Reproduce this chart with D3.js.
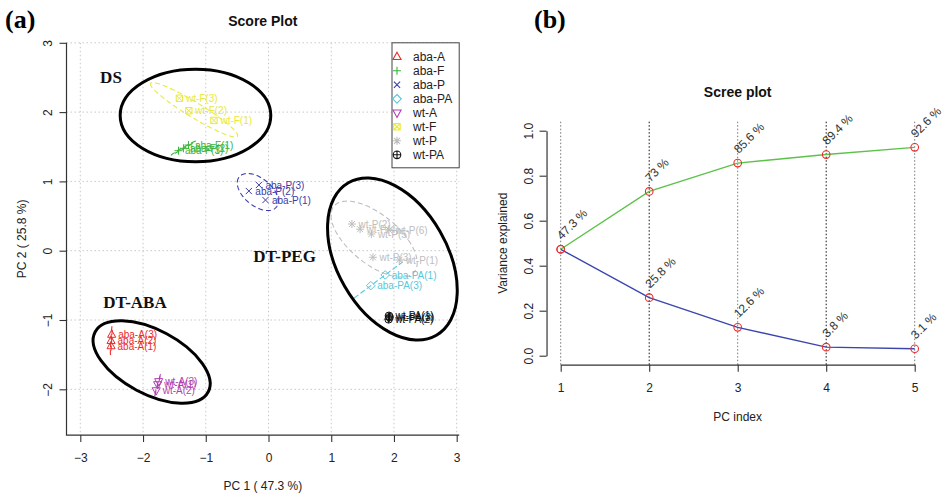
<!DOCTYPE html>
<html>
<head>
<meta charset="utf-8">
<script src="https://cdn.jsdelivr.net/npm/d3@7"></script>
<style>
  body { margin: 0; background: #fff; }
</style>
</head>
<body>
<svg id="chart" width="950" height="495"></svg>
<script>
// ---- Score plot data ----
const groups = ["aba-A", "aba-F", "aba-P", "aba-PA", "wt-A", "wt-F", "wt-P", "wt-PA"];
const groupColors = ["#EC2A2A", "#38B438", "#3C3CA8", "#58C8DA", "#B23FB2", "#E9E93A", "#BEBEBE", "#111111"];
const groupSymbols = ["triangle", "plus", "cross", "diamond", "triangleDown", "squareCross", "asterisk", "circlePlus"];

const sampleGroup = ["aba-A", "aba-A", "aba-A",
                     "aba-F", "aba-F", "aba-F",
                     "aba-P", "aba-P", "aba-P",
                     "aba-PA", "aba-PA",
                     "wt-A", "wt-A", "wt-A",
                     "wt-F", "wt-F", "wt-F",
                     "wt-P", "wt-P", "wt-P", "wt-P", "wt-P", "wt-P",
                     "wt-PA", "wt-PA", "wt-PA"];
const sampleRep = [1, 2, 3,
                   1, 2, 3,
                   1, 2, 3,
                   1, 3,
                   1, 2, 3,
                   1, 2, 3,
                   1, 2, 3, 4, 5, 6,
                   1, 2, 3];
const pc1 = [-2.51, -2.51, -2.50,
             -1.276, -1.356, -1.435,
             -0.048, -0.313, -0.153,
             1.86, 1.63,
             -1.767, -1.79, -1.75,
             -0.87, -1.27, -1.42,
             2.085, 1.33, 1.665, 1.46, 1.64, 1.92,
             1.92, 1.915, 1.93];
const pc2 = [-1.375, -1.30, -1.21,
             1.525, 1.478, 1.443,
             0.731, 0.861, 0.948,
             -0.35, -0.505,
             -1.93, -2.017, -1.886,
             1.88, 2.02, 2.20,
             -0.134, 0.385, -0.095, 0.31, 0.24, 0.30,
             -0.94, -0.99, -0.96];

const scoreXTicks = [-3, -2, -1, 0, 1, 2, 3];
const scoreYTicks = [-2, -1, 0, 1, 2, 3];

// Treatment clusters circled on the score plot (centres in PC units)
const clusterNames = ["DS", "DT-PEG", "DT-ABA"];
const clusterPC1 = [-1.164, 1.975, -1.863];
const clusterPC2 = [1.951, -0.12, -1.606];
const clusterNamePC1 = [-2.684, -0.244, -2.636];
const clusterNamePC2 = [2.416, -0.163, -0.83];

// ---- Scree plot data ----
const pcIndex = [1, 2, 3, 4, 5];
const varExplained = [0.473, 0.258, 0.126, 0.038, 0.031];
const cumExplained = [0.473, 0.73, 0.856, 0.894, 0.926];
const screeYTicks = [0, 0.2, 0.4, 0.6, 0.8, 1.0];

// ---------------------------------------------------------------
const SANS = '"Liberation Sans", Arial, Helvetica, sans-serif';
const SERIF = '"Liberation Serif", "Times New Roman", serif';
const svg = d3.select("#chart");

// Marker shapes (R-style plotting characters), centred at the origin
function symbolPath(type) {
  switch (type) {
    case "triangle": { const s = 4.6; return `M0,${-s}L${s * 0.88},${s * 0.6}L${-s * 0.88},${s * 0.6}Z`; }
    case "triangleDown": { const s = 4.6; return `M0,${s}L${s * 0.88},${-s * 0.6}L${-s * 0.88},${-s * 0.6}Z`; }
    case "plus": { const s = 4; return `M${-s},0H${s}M0,${-s}V${s}`; }
    case "cross": { const s = 3.1; return `M${-s},${-s}L${s},${s}M${-s},${s}L${s},${-s}`; }
    case "diamond": { const s = 4.3; return `M0,${-s}L${s},0L0,${s}L${-s},0Z`; }
    case "squareCross": { const s = 3.2; return `M${-s},${-s}H${s}V${s}H${-s}ZM${-s},${-s}L${s},${s}M${-s},${s}L${s},${-s}`; }
    case "asterisk": { const s = 4, d = 3; return `M${-s},0H${s}M0,${-s}V${s}M${-d},${-d}L${d},${d}M${-d},${d}L${d},${-d}`; }
    case "circlePlus": { const r = 3.8; return `M${-r},0A${r},${r} 0 1,0 ${r},0A${r},${r} 0 1,0 ${-r},0ZM${-r},0H${r}M0,${-r}V${r}`; }
  }
  return "";
}
const colorOf = d3.scaleOrdinal().domain(groups).range(groupColors);
const symbolOf = d3.scaleOrdinal().domain(groups).range(groupSymbols);

// 95% confidence ellipse of a group of points (data units)
function confidenceEllipse(xs, ys, n = 120) {
  const k = xs.length;
  const mx = d3.mean(xs), my = d3.mean(ys);
  let sxx = 0, syy = 0, sxy = 0;
  for (let i = 0; i < k; i++) {
    const dx = xs[i] - mx, dy = ys[i] - my;
    sxx += dx * dx; syy += dy * dy; sxy += dx * dy;
  }
  sxx /= (k - 1); syy /= (k - 1); sxy /= (k - 1);
  const tr = sxx + syy, det = sxx * syy - sxy * sxy;
  const disc = Math.sqrt(Math.max(tr * tr / 4 - det, 0));
  const l1 = tr / 2 + disc, l2 = Math.max(tr / 2 - disc, 0);
  let v1 = Math.abs(sxy) > 1e-12 ? [sxy, l1 - sxx] : (sxx >= syy ? [1, 0] : [0, 1]);
  const norm = Math.hypot(v1[0], v1[1]);
  v1 = [v1[0] / norm, v1[1] / norm];
  const v2 = [-v1[1], v1[0]];
  const r = Math.sqrt(5.991464547); // chi-square, 2 df, 0.95
  return d3.range(n + 1).map(i => {
    const t = 2 * Math.PI * i / n;
    const a = r * Math.sqrt(l1) * Math.cos(t), b = r * Math.sqrt(l2) * Math.sin(t);
    return [mx + a * v1[0] + b * v2[0], my + a * v1[1] + b * v2[1]];
  });
}

// ================= (a) Score plot =================
const x = d3.scaleLinear().domain([-3, 3]).range([80.3, 456.7]);
const y = d3.scaleLinear().domain([-2, 3]).range([389.3, 42.8]);
const aLeft = x(-3.22), aRight = x(3.04), aTop = y(3.0), aBottom = y(-2.66);

const gA = svg.append("g");

// dotted grid
gA.append("g").selectAll("line").data(scoreXTicks).join("line")
  .attr("x1", d => x(d)).attr("x2", d => x(d)).attr("y1", aTop).attr("y2", aBottom)
  .attr("stroke", "#c9c9c9").attr("stroke-width", 1).attr("stroke-dasharray", "1.5,2.5");
gA.append("g").selectAll("line").data(scoreYTicks).join("line")
  .attr("y1", d => y(d)).attr("y2", d => y(d)).attr("x1", aLeft).attr("x2", aRight)
  .attr("stroke", "#c9c9c9").attr("stroke-width", 1).attr("stroke-dasharray", "1.5,2.5");

// samples
const samples = sampleGroup.map((g, i) => ({ group: g, rep: sampleRep[i], x: pc1[i], y: pc2[i] }));

// group confidence ellipses
const line = d3.line().x(d => x(d[0])).y(d => y(d[1]));
gA.append("g").selectAll("path").data(groups).join("path")
  .attr("d", g => {
    const pts = samples.filter(s => s.group === g);
    return line(confidenceEllipse(pts.map(p => p.x), pts.map(p => p.y)));
  })
  .attr("fill", "none").attr("stroke", g => colorOf(g)).attr("stroke-width", 1.1)
  .attr("stroke-dasharray", "5,3");

// markers
gA.append("g").selectAll("path").data(samples).join("path")
  .attr("transform", d => `translate(${x(d.x)},${y(d.y)})`)
  .attr("d", d => symbolPath(symbolOf(d.group)))
  .attr("fill", "none").attr("stroke", d => colorOf(d.group)).attr("stroke-width", 1);

// sample labels
gA.append("g").selectAll("text").data(samples).join("text")
  .attr("x", d => x(d.x) + 6.5).attr("y", d => y(d.y) + 3.6)
  .attr("font-family", SANS).attr("font-size", 10)
  .attr("fill", d => colorOf(d.group))
  .text(d => `${d.group}(${d.rep})`);

// treatment cluster outlines
const clusterShape = [
  { rx: 75.3, ry: 46.2, angle: 0 },
  { rx: 88, ry: 55, angle: 60 },
  { rx: 64, ry: 32, angle: 28 }
];
gA.append("g").selectAll("ellipse").data(clusterNames).join("ellipse")
  .attr("transform", (d, i) => `translate(${x(clusterPC1[i])},${y(clusterPC2[i])}) rotate(${clusterShape[i].angle})`)
  .attr("rx", (d, i) => clusterShape[i].rx).attr("ry", (d, i) => clusterShape[i].ry)
  .attr("fill", "none").attr("stroke", "#000").attr("stroke-width", 3);
gA.append("g").selectAll("text").data(clusterNames).join("text")
  .attr("x", (d, i) => x(clusterNamePC1[i])).attr("y", (d, i) => y(clusterNamePC2[i]))
  .attr("font-family", SERIF).attr("font-weight", "bold").attr("font-size", 17)
  .attr("fill", "#111").text(d => d);

// L-shaped frame
gA.append("path")
  .attr("d", `M${aLeft},${aTop}V${aBottom}H${aRight}`)
  .attr("fill", "none").attr("stroke", "#333").attr("stroke-width", 1.2);

// axes
const axX = gA.append("g").attr("transform", `translate(0,${aBottom})`)
  .call(d3.axisBottom(x).tickValues(scoreXTicks).tickSize(7).tickSizeOuter(0).tickFormat(d3.format("d")));
const axY = gA.append("g").attr("transform", `translate(${aLeft},0)`)
  .call(d3.axisLeft(y).tickValues(scoreYTicks).tickSize(7).tickSizeOuter(0).tickFormat(d3.format("d")));
[axX, axY].forEach(ax => {
  ax.select(".domain").remove();
  ax.selectAll(".tick line").attr("stroke", "#333").attr("stroke-width", 1.1);
  ax.selectAll("text").attr("font-family", SANS).attr("font-size", 12).attr("fill", "#222");
});
axX.selectAll("text").attr("y", 27).attr("dy", null);
axY.selectAll("text").attr("x", null).attr("dy", null).attr("text-anchor", "middle")
  .attr("transform", "translate(-14.5,0) rotate(-90)");

// legend
const legend = gA.append("g");
legend.append("rect").attr("x", 392).attr("y", aTop).attr("width", aRight - 392).attr("height", 125)
  .attr("fill", "#fff").attr("stroke", "#444").attr("stroke-width", 1);
const legRows = legend.selectAll("g.row").data(groups).join("g").attr("class", "row")
  .attr("transform", (d, i) => `translate(0,${aTop + 14 + i * 14})`);
legRows.append("path").attr("transform", "translate(397,0)")
  .attr("d", d => symbolPath(symbolOf(d)))
  .attr("fill", "none").attr("stroke", d => colorOf(d)).attr("stroke-width", 1.1);
legRows.append("text").attr("x", 413).attr("y", 4.3)
  .attr("font-family", SANS).attr("font-size", 12).attr("fill", "#222").text(d => d);

// titles
gA.append("text").attr("x", (aLeft + aRight) / 2).attr("y", 26).attr("text-anchor", "middle")
  .attr("font-family", SANS).attr("font-weight", "bold").attr("font-size", 14).attr("fill", "#111")
  .text("Score Plot");
gA.append("text").attr("x", (aLeft + aRight) / 2).attr("y", 489.5).attr("text-anchor", "middle")
  .attr("font-family", SANS).attr("font-size", 12).attr("fill", "#222")
  .text("PC 1 ( 47.3 %)");
gA.append("text").attr("transform", `translate(26,${(aTop + aBottom) / 2}) rotate(-90)`)
  .attr("text-anchor", "middle")
  .attr("font-family", SANS).attr("font-size", 12).attr("fill", "#222")
  .text("PC 2 ( 25.8 %)");
gA.append("text").attr("x", 5).attr("y", 28)
  .attr("font-family", SERIF).attr("font-weight", "bold").attr("font-size", 26).attr("fill", "#000")
  .text("(a)");

// ================= (b) Scree plot =================
const x2 = d3.scaleLinear().domain([1, 5]).range([560.7, 914.7]);
const y2 = d3.scaleLinear().domain([0, 1]).range([355.7, 130.7]);
const bLeft = x2(0.84), bTop = y2(1.04), bBottom = y2(-0.04);
const gB = svg.append("g");

// vertical dotted guides
gB.append("g").selectAll("line").data(pcIndex).join("line")
  .attr("x1", d => x2(d)).attr("x2", d => x2(d)).attr("y1", bTop).attr("y2", bBottom)
  .attr("stroke", (d, i) => i % 2 ? "#111" : "#777").attr("stroke-width", 1)
  .attr("stroke-dasharray", "1.5,2");

const seriesLine = d3.line().x((d, i) => x2(pcIndex[i])).y(d => y2(d));
gB.append("path").datum(cumExplained).attr("d", seriesLine)
  .attr("fill", "none").attr("stroke", "#5CC24A").attr("stroke-width", 1.4);
gB.append("path").datum(varExplained).attr("d", seriesLine)
  .attr("fill", "none").attr("stroke", "#3A46AE").attr("stroke-width", 1.4);

const pctFmt = v => `${Math.round(v * 1000) / 10} %`;
[cumExplained, varExplained].forEach(series => {
  const pts = series.map((v, i) => ({ pc: pcIndex[i], v }));
  gB.append("g").selectAll("circle").data(pts).join("circle")
    .attr("cx", d => x2(d.pc)).attr("cy", d => y2(d.v)).attr("r", 3.8)
    .attr("fill", "none").attr("stroke", "#EE2B2B").attr("stroke-width", 1.1);
  // the first component shares its value in both series: label it once
  const labelled = series === varExplained ? pts.slice(1) : pts;
  gB.append("g").selectAll("text").data(labelled).join("text")
    .attr("transform", d => `translate(${x2(d.pc) + 1},${y2(d.v) - 9}) rotate(-45)`)
    .attr("font-family", SANS).attr("font-size", 12).attr("fill", "#333")
    .text(d => pctFmt(d.v));
});

const axX2 = gB.append("g").attr("transform", `translate(0,${bBottom})`)
  .call(d3.axisBottom(x2).tickValues(pcIndex).tickSize(7).tickSizeOuter(0).tickFormat(d3.format("d")));
const axY2 = gB.append("g").attr("transform", `translate(${bLeft},0)`)
  .call(d3.axisLeft(y2).tickValues(screeYTicks).tickSize(7).tickSizeOuter(0).tickFormat(d3.format(".1f")));
[axX2, axY2].forEach(ax => {
  ax.select(".domain").attr("stroke", "#333").attr("stroke-width", 1.2);
  ax.selectAll(".tick line").attr("stroke", "#333").attr("stroke-width", 1.1);
  ax.selectAll("text").attr("font-family", SANS).attr("font-size", 12).attr("fill", "#222");
});
axX2.selectAll("text").attr("y", 27.3).attr("dy", null);
axY2.selectAll("text").attr("x", null).attr("dy", null).attr("text-anchor", "middle")
  .attr("transform", "translate(-13.5,0) rotate(-90)");

gB.append("text").attr("x", x2(3)).attr("y", 97).attr("text-anchor", "middle")
  .attr("font-family", SANS).attr("font-weight", "bold").attr("font-size", 14).attr("fill", "#111")
  .text("Scree plot");
gB.append("text").attr("x", x2(3)).attr("y", 421).attr("text-anchor", "middle")
  .attr("font-family", SANS).attr("font-size", 12).attr("fill", "#222")
  .text("PC index");
gB.append("text").attr("transform", `translate(506.5,${(bTop + bBottom) / 2}) rotate(-90)`)
  .attr("text-anchor", "middle")
  .attr("font-family", SANS).attr("font-size", 12).attr("fill", "#222")
  .text("Variance explained");
gB.append("text").attr("x", 534).attr("y", 28)
  .attr("font-family", SERIF).attr("font-weight", "bold").attr("font-size", 26).attr("fill", "#000")
  .text("(b)");
</script>
</body>
</html>
